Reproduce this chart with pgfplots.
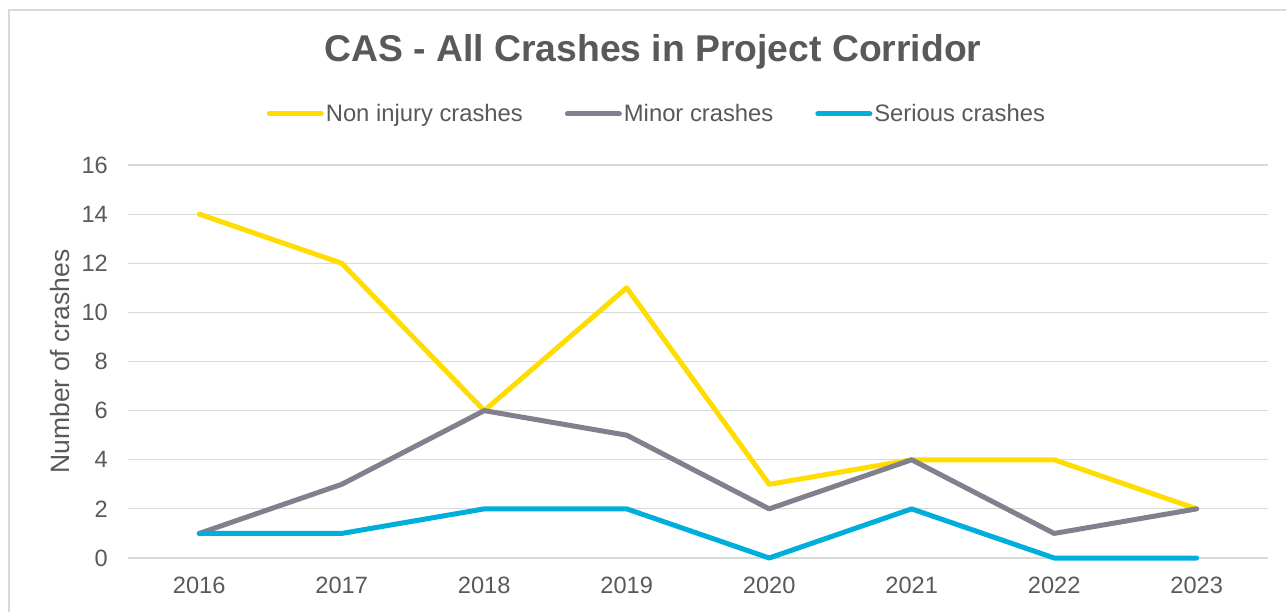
\documentclass[border=0pt]{standalone}
\usepackage{fontspec}
\setmainfont{Liberation Sans}
\usepackage{pgfplots}
\pgfplotsset{compat=1.18}
\definecolor{cYellow}{RGB}{255,221,0}
\definecolor{cGrey}{RGB}{128,128,142}
\definecolor{cBlue}{RGB}{0,174,219}
\definecolor{cText}{RGB}{89,89,89}
\definecolor{cGrid}{RGB}{217,217,217}
\begin{document}
\begin{tikzpicture}
\path[use as bounding box] (-128pt,-53pt) rectangle (1158pt,558pt);
\draw[cGrid, line width=1.2pt] (-119pt,-60pt) -- (-119pt,548pt) -- (1170pt,548pt);
\begin{axis}[
  at={(0pt,0pt)}, anchor=south west,
  scale only axis, width=1140pt, height=393pt,
  xmin=-0.5, xmax=7.5, ymin=0, ymax=16,
  xtick={0,...,7}, xticklabels={2016,2017,2018,2019,2020,2021,2022,2023},
  ytick={0,2,...,16},
  axis line style={draw=none},
  major tick length=0pt,
  ymajorgrids, grid style={cGrid, line width=1.2pt},
  /pgf/number format/assume math mode=true,
  tick label style={font=\fontsize{23.6}{28}\selectfont, text=cText},
  yticklabel style={anchor=east, inner sep=0pt, xshift=-20pt},
  xticklabel style={anchor=north, inner sep=0pt, yshift=-19pt},
  legend columns=3,
  legend style={at={(axis description cs:0.464,1.13)}, anchor=center, draw=none, fill=none,
    font=\fontsize{23.8}{28}\selectfont, text=cText,
    /tikz/every even column/.append style={column sep=40pt}},
  legend cell align=left,
  legend image code/.code={\draw[#1, line cap=round] (0pt,0pt) -- (52pt,0pt);},
  clip=false,
]
\addplot[cYellow, line width=5pt, line join=round, line cap=round] coordinates {(0,14)(1,12)(2,6)(3,11)(4,3)(5,4)(6,4)(7,2)};
\addlegendentry{Non injury crashes}
\addplot[cGrey, line width=5pt, line join=round, line cap=round] coordinates {(0,1)(1,3)(2,6)(3,5)(4,2)(5,4)(6,1)(7,2)};
\addlegendentry{Minor crashes}
\addplot[cBlue, line width=5pt, line join=round, line cap=round] coordinates {(0,1)(1,1)(2,2)(3,2)(4,0)(5,2)(6,0)(7,0)};
\addlegendentry{Serious crashes}
\node[font=\bfseries\fontsize{37.3}{44}\selectfont, text=cText] at (axis description cs:0.4605,1.2875) {CAS - All Crashes in Project Corridor};
\node[rotate=90, font=\fontsize{26.5}{30}\selectfont, text=cText] at (axis description cs:-0.0596,0.5) {Number of crashes};
\end{axis}
\end{tikzpicture}
\end{document}
